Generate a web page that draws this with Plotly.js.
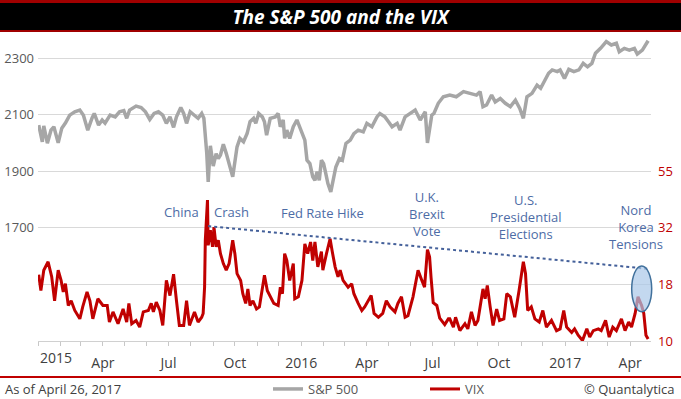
<!DOCTYPE html>
<html>
<head>
<meta charset="utf-8">
<script src="https://cdn.plot.ly/plotly-3.0.1.min.js"></script>
<style>html,body{margin:0;padding:0;background:#fff;}#chart{width:681px;height:399px;}</style>
</head>
<body>
<div id="chart"></div>
<script>
// ---- Data ----
const spxDates = ['2015-01-02','2015-01-07','2015-01-09','2015-01-14','2015-01-19','2015-01-23','2015-01-29','2015-02-03','2015-02-08','2015-02-14','2015-02-21','2015-02-28','2015-03-05','2015-03-11','2015-03-17','2015-03-20','2015-03-26','2015-03-31','2015-04-04','2015-04-11','2015-04-18','2015-04-24','2015-04-30','2015-05-04','2015-05-08','2015-05-17','2015-05-24','2015-05-30','2015-06-05','2015-06-11','2015-06-17','2015-06-23','2015-06-28','2015-07-03','2015-07-08','2015-07-12','2015-07-18','2015-07-22','2015-07-26','2015-07-31','2015-08-07','2015-08-11','2015-08-16','2015-08-19','2015-08-23','2015-08-25','2015-08-28','2015-09-01','2015-09-05','2015-09-08','2015-09-11','2015-09-15','2015-09-19','2015-09-24','2015-09-28','2015-10-04','2015-10-08','2015-10-13','2015-10-18','2015-10-22','2015-10-27','2015-10-30','2015-11-03','2015-11-08','2015-11-11','2015-11-14','2015-11-19','2015-11-26','2015-11-30','2015-12-03','2015-12-07','2015-12-09','2015-12-12','2015-12-16','2015-12-21','2015-12-26','2015-12-29','2016-01-01','2016-01-06','2016-01-09','2016-01-13','2016-01-17','2016-01-20','2016-01-23','2016-01-26','2016-01-29','2016-02-01','2016-02-04','2016-02-07','2016-02-11','2016-02-14','2016-02-18','2016-02-23','2016-02-27','2016-03-03','2016-03-09','2016-03-14','2016-03-20','2016-03-27','2016-04-01','2016-04-08','2016-04-15','2016-04-19','2016-04-26','2016-05-01','2016-05-06','2016-05-13','2016-05-17','2016-05-24','2016-05-31','2016-06-07','2016-06-14','2016-06-21','2016-06-24','2016-06-30','2016-07-03','2016-07-09','2016-07-16','2016-07-25','2016-08-03','2016-08-13','2016-08-22','2016-08-31','2016-09-05','2016-09-09','2016-09-14','2016-09-21','2016-09-26','2016-10-03','2016-10-10','2016-10-17','2016-10-24','2016-10-30','2016-11-04','2016-11-09','2016-11-16','2016-11-23','2016-11-28','2016-12-04','2016-12-09','2016-12-14','2016-12-21','2016-12-25','2016-12-31','2017-01-06','2017-01-13','2017-01-20','2017-01-26','2017-02-01','2017-02-07','2017-02-12','2017-02-19','2017-02-27','2017-03-06','2017-03-13','2017-03-17','2017-03-24','2017-03-31','2017-04-07','2017-04-11','2017-04-18','2017-04-26'];
const spxValues = [2063,2004,2060,1999,2045,2057,2000,2052,2070,2098,2110,2116,2098,2045,2088,2104,2063,2081,2070,2098,2092,2110,2114,2087,2116,2130,2125,2110,2083,2104,2110,2098,2069,2092,2055,2092,2125,2104,2069,2110,2095,2087,2104,2087,1963,1862,1990,1918,1962,1945,1957,1995,1963,1921,1880,1986,2016,2004,2033,2075,2087,2069,2104,2092,2075,2027,2087,2092,2104,2057,2081,2016,2045,2016,2057,2081,2063,2039,2010,1939,1927,1880,1868,1898,1868,1939,1927,1892,1856,1827,1868,1915,1945,1939,1998,2010,2033,2045,2039,2069,2057,2092,2104,2092,2075,2057,2069,2045,2092,2104,2116,2081,2110,2000,2098,2104,2140,2163,2169,2163,2181,2175,2169,2181,2128,2134,2169,2145,2157,2140,2128,2151,2122,2087,2163,2175,2204,2193,2222,2246,2258,2252,2258,2228,2260,2252,2258,2281,2269,2281,2317,2334,2358,2346,2352,2322,2334,2328,2334,2314,2328,2361];

const vixDates = ['2015-01-02','2015-01-05','2015-01-09','2015-01-15','2015-01-20','2015-01-24','2015-01-29','2015-02-02','2015-02-05','2015-02-08','2015-02-12','2015-02-16','2015-02-21','2015-02-28','2015-03-04','2015-03-10','2015-03-14','2015-03-18','2015-03-25','2015-04-01','2015-04-07','2015-04-10','2015-04-15','2015-04-22','2015-04-29','2015-05-04','2015-05-07','2015-05-11','2015-05-17','2015-05-22','2015-05-27','2015-06-03','2015-06-07','2015-06-10','2015-06-14','2015-06-19','2015-06-23','2015-06-28','2015-07-03','2015-07-08','2015-07-12','2015-07-16','2015-07-22','2015-07-26','2015-07-30','2015-08-06','2015-08-11','2015-08-16','2015-08-18','2015-08-20','2015-08-21','2015-08-24','2015-08-25','2015-08-28','2015-08-31','2015-09-02','2015-09-05','2015-09-08','2015-09-11','2015-09-15','2015-09-19','2015-09-23','2015-09-28','2015-10-01','2015-10-04','2015-10-09','2015-10-12','2015-10-16','2015-10-19','2015-10-22','2015-10-26','2015-10-31','2015-11-04','2015-11-11','2015-11-15','2015-11-19','2015-11-24','2015-11-30','2015-12-03','2015-12-06','2015-12-09','2015-12-12','2015-12-16','2015-12-21','2015-12-23','2015-12-28','2016-01-02','2016-01-06','2016-01-10','2016-01-14','2016-01-17','2016-01-20','2016-01-24','2016-01-29','2016-01-31','2016-02-05','2016-02-10','2016-02-13','2016-02-17','2016-02-21','2016-02-24','2016-02-28','2016-03-06','2016-03-11','2016-03-14','2016-03-20','2016-03-25','2016-03-29','2016-04-03','2016-04-07','2016-04-11','2016-04-17','2016-04-23','2016-04-28','2016-05-03','2016-05-10','2016-05-14','2016-05-19','2016-05-24','2016-05-28','2016-06-04','2016-06-11','2016-06-16','2016-06-20','2016-06-24','2016-06-27','2016-06-29','2016-07-02','2016-07-07','2016-07-11','2016-07-18','2016-07-23','2016-07-25','2016-07-30','2016-08-02','2016-08-08','2016-08-15','2016-08-19','2016-08-24','2016-08-29','2016-09-02','2016-09-09','2016-09-12','2016-09-15','2016-09-19','2016-09-23','2016-09-28','2016-10-02','2016-10-08','2016-10-12','2016-10-17','2016-10-23','2016-10-29','2016-11-04','2016-11-07','2016-11-10','2016-11-15','2016-11-20','2016-11-26','2016-12-01','2016-12-06','2016-12-13','2016-12-20','2016-12-25','2016-12-30','2017-01-03','2017-01-10','2017-01-14','2017-01-19','2017-01-25','2017-01-31','2017-02-04','2017-02-09','2017-02-16','2017-02-20','2017-02-26','2017-03-03','2017-03-08','2017-03-13','2017-03-20','2017-03-25','2017-03-30','2017-04-03','2017-04-08','2017-04-12','2017-04-17','2017-04-20','2017-04-23','2017-04-26'];
const vixValues = [19.5,16.6,20.4,22.2,19.1,15.0,20.4,18.4,16.4,17.8,14.3,15.0,13.6,12.5,14.1,16.4,15.0,12.5,15.3,14.3,14.3,12.1,13.4,11.9,13.8,12.1,14.6,11.9,12.3,11.5,13.4,13.6,14.6,13.4,14.8,13.6,11.7,18.4,15.8,19.6,15.0,11.7,11.7,15.0,11.7,13.4,12.1,12.7,13.2,17.2,27.6,41.3,26.2,30.5,25.8,31.5,25.8,27.6,24.1,21.8,20.4,21.8,27.6,24.1,19.7,18.4,16.1,14.6,16.9,14.3,15.0,13.8,14.1,19.4,16.6,15.6,14.6,14.3,17.2,16.1,24.1,22.5,18.4,21.8,15.3,15.6,18.4,26.6,24.1,27.1,22.5,27.1,21.1,24.6,20.4,24.1,28.0,24.6,21.1,19.1,20.4,18.4,17.2,17.8,16.1,14.6,13.6,14.1,15.0,15.8,13.2,12.7,13.2,15.0,14.1,13.4,14.6,15.6,12.7,12.9,15.6,20.4,18.5,17.2,25.1,23.3,19.0,14.7,14.3,12.6,11.8,12.5,12.5,11.5,12.7,11.1,11.9,11.3,13.4,11.7,12.3,16.9,15.3,17.5,14.1,11.7,13.8,12.3,12.5,16.1,15.6,12.7,16.6,22.2,19.7,13.6,14.1,12.5,12.1,13.6,11.5,12.3,11.1,11.3,13.6,11.5,10.9,11.3,10.6,10.05,11.3,10.4,11.1,11.3,11.1,12.3,10.4,11.5,11.1,12.5,11.1,12.1,11.5,13.2,15.6,14.3,13.2,10.6,10.2];

// Trend line through the VIX peaks (annotation)
const trendDates = ['2015-08-25','2017-04-25'];
const trendValues = [31.8, 20.7];

// Axis ticks
const xTickVals = ['2015-01-01','2015-04-01','2015-07-01','2015-10-01','2016-01-01','2016-04-01','2016-07-01','2016-10-01','2017-01-01','2017-04-01'];
const xTickText = ['','Apr','Jul','Oct','2016','Apr','Jul','Oct','2017','Apr'];
const spxTickVals = [1500,1700,1900,2100,2300];
const spxTickText = ['','1700','1900','2100','2300'];
const vixTickVals = [10,17.7,31.3,55.3];
const vixTickText = ['10','18','32','55'];

// ---- Layout geometry (pixels) ----
const W = 681, H = 399, ML = 38, MR = 30, MT = 32, MB = 58;
const PW = W - ML - MR, PH = H - MT - MB;
const px = x => (x - ML) / PW;          // pixel x -> paper
const py = y => (H - MB - y) / PH;      // pixel y -> paper

const FONT = 'Open Sans, Noto Sans, sans-serif';
const BLUE = '#4d6ca6';
const RED = '#c00000';

const traces = [
  {x: spxDates, y: spxValues, name: 'S&P 500', type: 'scatter', mode: 'lines',
   line: {color: '#a6a6a6', width: 3.5}, yaxis: 'y', hoverinfo: 'skip'},
  {x: vixDates, y: vixValues, name: 'VIX', type: 'scatter', mode: 'lines',
   line: {color: RED, width: 3}, yaxis: 'y2', hoverinfo: 'skip'},
  {x: trendDates, y: trendValues, type: 'scatter', mode: 'lines', showlegend: false,
   line: {color: '#44609a', width: 2, dash: 'dot'}, yaxis: 'y2', hoverinfo: 'skip'}
];

function note(text, xp, yp, extra) {
  return Object.assign({text: text, xref: 'paper', yref: 'paper', x: px(xp), y: py(yp),
    showarrow: false, xanchor: 'center', yanchor: 'middle',
    font: {family: FONT, size: 13, color: BLUE}}, extra || {});
}

const layout = {
  width: W, height: H,
  margin: {l: ML, r: MR, t: MT, b: MB, pad: 0, autoexpand: false},
  paper_bgcolor: '#ffffff', plot_bgcolor: '#ffffff',
  font: {family: FONT, size: 13, color: '#595959'},
  showlegend: true,
  legend: {orientation: 'h', x: px(268), xanchor: 'left', y: py(389), yanchor: 'middle',
           font: {family: FONT, size: 13, color: '#595959'}, bgcolor: 'rgba(0,0,0,0)',
           itemwidth: 30, tracegroupgap: 0, entrywidth: 112, entrywidthmode: 'pixels'},
  title: {text: '<b><i>The S&P 500 and the VIX</i></b>', x: 0.5, xref: 'container', xanchor: 'center',
          y: 1 - 17 / H, yref: 'container', yanchor: 'middle',
          font: {family: FONT, size: 19, color: '#ffffff'}},
  xaxis: {type: 'date', range: ['2015-01-01', '2017-04-30'], automargin: false,
          tickmode: 'array', tickvals: xTickVals, ticktext: xTickText,
          showgrid: false, zeroline: false, showline: true, linecolor: '#d0d0d0', linewidth: 1,
          ticks: 'outside', ticklen: 4, tickcolor: '#c8c8c8',
          minor: {dtick: 'M1', tick0: '2015-01-01', ticks: 'outside', ticklen: 4, tickcolor: '#c8c8c8', showgrid: false},
          tickfont: {family: FONT, size: 14, color: '#404040'}, ticklabelstandoff: 5},
  yaxis: {range: [1300, 1300 + PH / 56.6 * 200], tickmode: 'array', tickvals: spxTickVals, ticktext: spxTickText,
          automargin: false, ticklabelstandoff: 3,
          showgrid: true, gridcolor: '#d9d9d9', gridwidth: 1, zeroline: false, showline: false,
          ticks: '', tickfont: {family: FONT, size: 13, color: '#595959'}},
  yaxis2: {overlaying: 'y', side: 'right', type: 'log', range: [1, 1 + PH / 56.6 * 0.2475],
           automargin: false, ticklabelstandoff: 6,
           tickmode: 'array', tickvals: vixTickVals, ticktext: vixTickText,
           showgrid: false, zeroline: false, showline: false, ticks: '',
           tickfont: {family: FONT, size: 13, color: RED}},
  shapes: [
    // title bar
    {type: 'rect', xref: 'paper', yref: 'paper', x0: px(0), x1: px(W), y0: py(32), y1: py(0),
     fillcolor: '#a00000', line: {width: 0}, layer: 'below'},
    {type: 'rect', xref: 'paper', yref: 'paper', x0: px(0), x1: px(W), y0: py(30), y1: py(3),
     fillcolor: '#000000', line: {width: 0}, layer: 'below'},
    // footer rule
    {type: 'line', xref: 'paper', yref: 'paper', x0: px(0), x1: px(W), y0: py(377), y1: py(377),
     line: {color: RED, width: 2}},
    // highlight ellipse
    {type: 'circle', xref: 'paper', yref: 'paper', x0: px(631.7), x1: px(651.7), y0: py(311.7), y1: py(266),
     fillcolor: 'rgba(170,200,232,0.7)', line: {color: '#41719c', width: 1.5}, layer: 'above'}
  ],
  annotations: [
    {text: '2015', xref: 'x', yref: 'paper', x: '2015-01-01', y: py(358), xanchor: 'left', yanchor: 'middle',
     showarrow: false, font: {family: FONT, size: 14, color: '#404040'}},
    note('China', 181.5, 212),
    note('Crash', 231.5, 212),
    note('Fed Rate Hike', 322.5, 213),
    note('U.K.<br>Brexit<br>Vote', 427, 214),
    note('U.S.<br>Presidential<br>Elections', 526, 217),
    note('Nord<br>Korea<br>Tensions', 636, 226.5),
    {text: 'As of April 26, 2017', xref: 'paper', yref: 'paper', x: px(3), y: py(389), xanchor: 'left', yanchor: 'middle',
     showarrow: false, font: {family: FONT, size: 13, color: '#404040'}},
    {text: '© Quantalytica', xref: 'paper', yref: 'paper', x: px(677), y: py(389), xanchor: 'right', yanchor: 'middle',
     showarrow: false, font: {family: FONT, size: 13, color: '#404040'}}
  ]
};

Plotly.newPlot('chart', traces, layout, {displayModeBar: false, staticPlot: true});
</script>
</body>
</html>
